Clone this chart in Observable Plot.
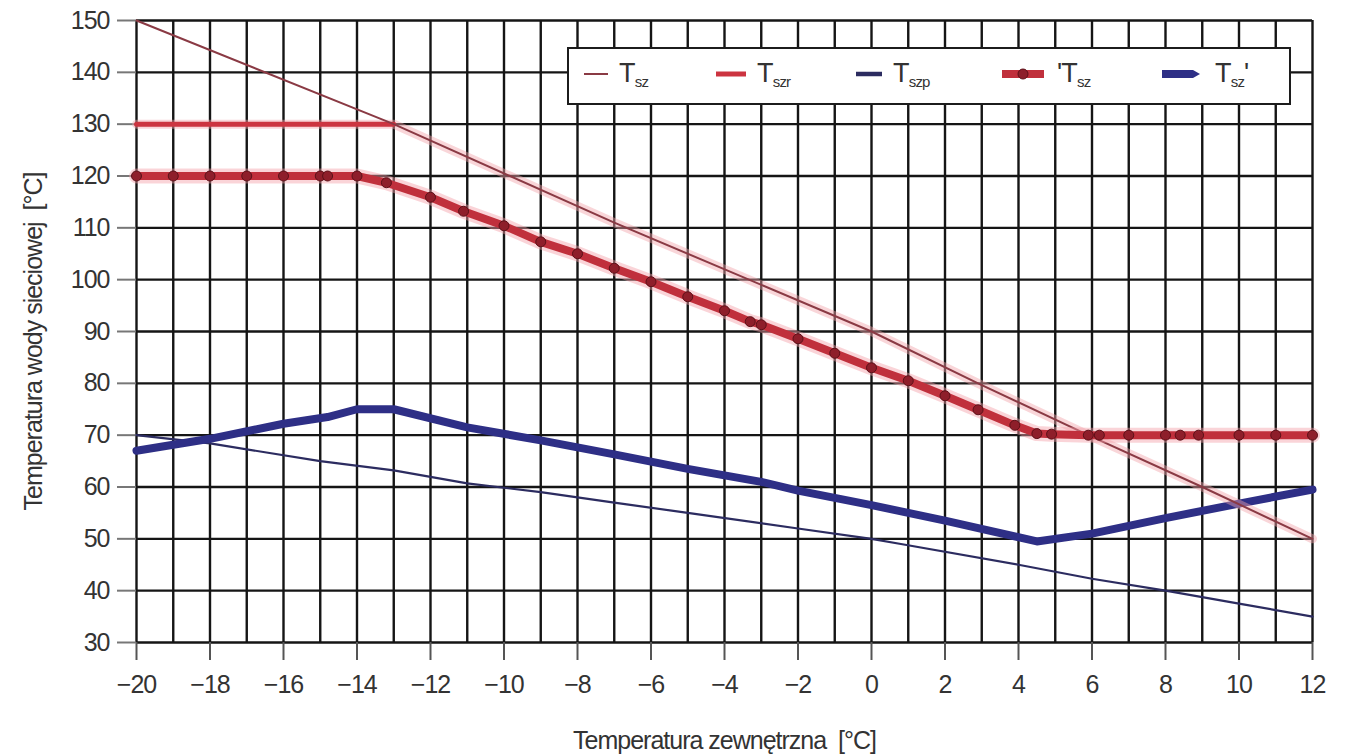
<!DOCTYPE html>
<html>
<head>
<meta charset="utf-8">
<script src="https://cdn.jsdelivr.net/npm/d3@7"></script>
<script src="https://cdn.jsdelivr.net/npm/@observablehq/plot@0.6"></script>
<style>
  html, body { margin: 0; padding: 0; background: #fff; }
  #wrap { position: relative; width: 1347px; height: 756px; overflow: hidden; }
  #wrap svg { font-family: "Liberation Sans", Arial, sans-serif; }
  .legend { position: absolute; left: 567px; top: 47px; width: 720px; height: 54px; background: #fff;
            border: 2px solid #1c1c1c; font-family: "Liberation Sans", Arial, sans-serif; color: #333; }
  .sw { position: absolute; top: 50%; transform: translateY(-60%); line-height: 0; }
  .lab { position: absolute; top: 50%; transform: translateY(-55%); font-size: 27px; line-height: 1; white-space: nowrap; letter-spacing: -0.8px; }
  .lab sub { font-size: 15px; vertical-align: -5px; letter-spacing: -0.8px; }
</style>
</head>
<body>
<div id="wrap"></div>
<script>
// Outside temperature axis (°C)
const xTicks = [-20, -18, -16, -14, -12, -10, -8, -6, -4, -2, 0, 2, 4, 6, 8, 10, 12];
const yTicks = [30, 40, 50, 60, 70, 80, 90, 100, 110, 120, 130, 140, 150];

// T_sz : thin line
const tszX = [-20, -13, -7, 0, 2.9, 5.9, 9, 12];
const tszY = [150, 130, 111, 90, 80, 70, 60, 50];

// T_szr : limited curve (flat 130, then along T_sz)
const tszrX = [-20, -13, -7, 0, 2.9, 5.9, 9, 12];
const tszrY = [130, 130, 111, 90, 80, 70, 60, 50];

// T_szp : thin navy line
const tszpX = [-20, -18, -15, -13, -11, -9, -7, -5, -2, 0, 0.8, 4, 6, 8, 10, 12];
const tszpY = [70, 68.4, 65, 63.2, 60.7, 59, 57, 55, 52, 50, 49, 45, 42.3, 40, 37.5, 35];

// 'T_sz : thick red line with markers
const tszPrimX = [-20, -19, -18, -17, -16, -15, -14.8, -14, -13.2, -12, -11.1, -10, -9, -8, -7, -6, -5, -4, -3.3, -3, -2, -1, 0, 1, 2, 2.9, 3.9, 4.5, 4.9, 5.9, 6.2, 7, 8, 8.4, 8.9, 10, 11, 12];
const tszPrimY = [120, 120, 120, 120, 120, 120, 120, 120, 118.7, 115.9, 113.2, 110.4, 107.3, 105, 102.2, 99.6, 96.7, 94, 91.9, 91.3, 88.6, 85.8, 83, 80.5, 77.6, 74.9, 71.9, 70.3, 70.2, 70, 70, 70, 70, 70, 70, 70, 70, 70];

// T_sz' : thick navy line
const tszBX = [-20, -18, -16, -14.8, -14, -13, -11, -9, -7, -5, -3, -2, 0, 2, 4.5, 6, 8, 10, 12];
const tszBY = [67, 69.3, 72.2, 73.5, 75, 75, 71.5, 69, 66.3, 63.5, 61, 59.3, 56.5, 53.5, 49.5, 51, 54, 56.8, 59.5];

const xLabel = "Temperatura zewnętrzna  [°C]";
const yLabel = "Temperatura wody sieciowej  [°C]";

const zip = (xs, ys) => xs.map((x, i) => ({x, y: ys[i]}));
const tsz = zip(tszX, tszY);
const tszr = zip(tszrX, tszrY);
const tszp = zip(tszpX, tszpY);
const tszPrim = zip(tszPrimX, tszPrimY);
const tszB = zip(tszBX, tszBY);

const fmt = d => (d < 0 ? "\u2212" + Math.abs(d) : String(d));

const chart = Plot.plot({
  width: 1347,
  height: 756,
  marginLeft: 136,
  marginRight: 35,
  marginTop: 20,
  marginBottom: 114,
  x: {domain: [-20, 12]},
  y: {domain: [30, 150]},
  style: {fontSize: "25px", background: "#fff", color: "#333", letterSpacing: "-1px"},
  marks: [
    Plot.gridX(d3.range(-20, 13, 1), {stroke: "#151515", strokeOpacity: 1, strokeWidth: 2.4}),
    Plot.gridY(yTicks, {stroke: "#151515", strokeOpacity: 1, strokeWidth: 2.4}),
    Plot.axisX(xTicks, {tickSize: 18, tickPadding: 15, tickFormat: fmt, stroke: "#555", strokeWidth: 2, label: null, fill: "#333"}),
    Plot.axisY(yTicks, {tickSize: 19, tickPadding: 8, tickFormat: fmt, stroke: "#777", strokeWidth: 2, label: null, fill: "#333"}),
    // T_szp thin navy
    Plot.line(tszp, {x: "x", y: "y", stroke: "#2c2c60", strokeWidth: 2.2}),
    // T_sz' thick navy
    Plot.line(tszB, {x: "x", y: "y", stroke: "#2e2f86", strokeWidth: 8, strokeLinejoin: "round"}),
    // T_szr halo + line
    Plot.line(tszr, {x: "x", y: "y", stroke: "#f2a3ab", strokeWidth: 9, strokeOpacity: 0.45}),
    Plot.line(tszr.slice(0, 2), {x: "x", y: "y", stroke: "#cc3440", strokeWidth: 5}),
    // T_sz thin
    Plot.line(tsz, {x: "x", y: "y", stroke: "#8a3a44", strokeWidth: 2}),
    // 'T_sz thick red with halo and markers
    Plot.line(tszPrim, {x: "x", y: "y", stroke: "#f3a0a8", strokeWidth: 15, strokeOpacity: 0.45, strokeLinejoin: "round"}),
    Plot.line(tszPrim, {x: "x", y: "y", stroke: "#c0303c", strokeWidth: 8, strokeLinejoin: "round"}),
    Plot.dot(tszPrim, {x: "x", y: "y", r: 5, fill: "#8e1e2a", stroke: "#5c1018", strokeWidth: 1}),
    // axis titles
    Plot.text([xLabel], {frameAnchor: "bottom", lineAnchor: "middle", textAnchor: "middle", dy: 98, fontSize: 25, fill: "#333"}),
    Plot.text([yLabel], {frameAnchor: "left", lineAnchor: "middle", textAnchor: "middle", dx: -103, dy: 10, rotate: -90, fontSize: 25, fill: "#333"})
  ]
});

const wrap = document.getElementById("wrap");
wrap.appendChild(chart);

// Legend (HTML overlay inside the plot area)
const legendItems = [
  {left: 14, sw: `<svg width="26" height="20"><line x1="1" y1="10" x2="25" y2="10" stroke="#8a3a44" stroke-width="2"/></svg>`, lab: `T<sub>sz</sub>`, labL: 50},
  {left: 146, sw: `<svg width="32" height="20"><line x1="1" y1="10" x2="31" y2="10" stroke="#cc3440" stroke-width="5"/></svg>`, lab: `T<sub>szr</sub>`, labL: 188},
  {left: 286, sw: `<svg width="28" height="20"><line x1="1" y1="10" x2="27" y2="10" stroke="#2c2c60" stroke-width="4.5"/></svg>`, lab: `T<sub>szp</sub>`, labL: 324},
  {left: 432, sw: `<svg width="44" height="20"><line x1="1" y1="10" x2="43" y2="10" stroke="#c0303c" stroke-width="8"/><circle cx="22" cy="10" r="5" fill="#8e1e2a" stroke="#5c1018"/></svg>`, lab: `'T<sub>sz</sub>`, labL: 488},
  {left: 592, sw: `<svg width="40" height="20"><path d="M1,6 L32,6 L39,10 L32,14 L1,14 Z" fill="#2e2f86"/></svg>`, lab: `T<sub>sz</sub>'`, labL: 646}
];
const legend = document.createElement("div");
legend.className = "legend";
legend.innerHTML = legendItems.map(d =>
  `<div class="sw" style="left:${d.left}px">${d.sw}</div><span class="lab" style="left:${d.labL}px">${d.lab}</span>`
).join("");
wrap.appendChild(legend);
</script>
</body>
</html>
